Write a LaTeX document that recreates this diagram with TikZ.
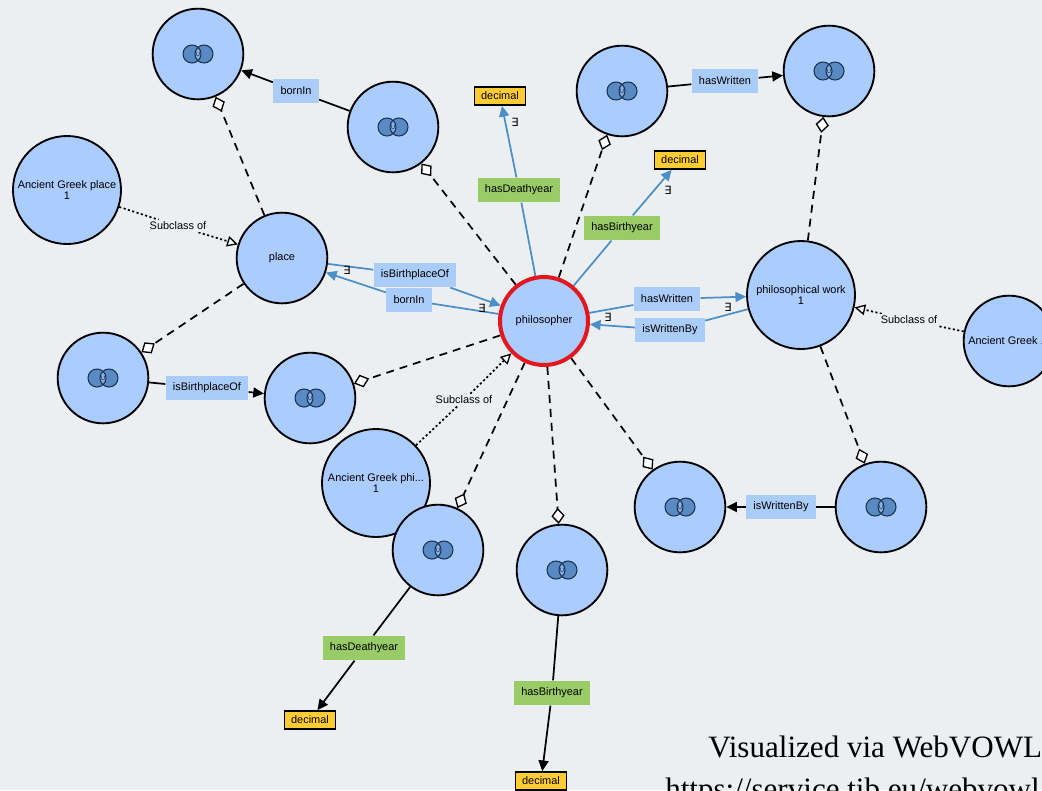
\documentclass[tikz,border=0pt]{standalone}
\usepackage{fontspec}
\setmainfont{Liberation Sans}
\newfontfamily\seriffont{Liberation Serif}
\newfontfamily\symfont{DejaVu Sans}
\usetikzlibrary{arrows.meta,backgrounds}
\definecolor{bgc}{HTML}{ECEFF1}
\definecolor{classc}{HTML}{AACCFF}
\definecolor{propc}{HTML}{AACCF8}
\definecolor{dtpc}{HTML}{99CC66}
\definecolor{dtc}{HTML}{FFCC33}
\definecolor{edgeblue}{HTML}{4A8FC7}
\definecolor{philred}{HTML}{E4161E}
\definecolor{iconc}{HTML}{5A8AC4}
\definecolor{lensc}{HTML}{8AAFE0}
\definecolor{iconline}{HTML}{1B3456}
\newcommand\uicon[1]{%
  \begin{scope}[shift={(#1.center)}]
    \fill[iconc] (-6,0) circle (9);
    \fill[iconc] (6,0) circle (9);
    \begin{scope}
      \clip (-6,0) circle (9);
      \fill[lensc] (6,0) circle (9);
    \end{scope}
    \draw[iconline,line width=0.8pt] (-6,0) circle (9) (6,0) circle (9);
    \node[font=\symfont\fontsize{5.5}{5.5}\selectfont,text=iconline,inner sep=0pt] (#1-u) at (0,0.5) {∪};
  \end{scope}}
\begin{document}
\begin{tikzpicture}[x=0.75pt,y=-0.75pt,
  every node/.style={font=\fontsize{8.2}{9.5}\selectfont},
  cls/.style={circle,draw=black,line width=1.4pt,fill=classc,minimum size=#1,inner sep=0pt,align=center},
  unicls/.style={cls=68pt},
  bigcls/.style={cls=81pt},
  philc/.style={circle,draw=philred,line width=3pt,fill=classc,minimum size=66pt,inner sep=0pt},
  propbox/.style={fill=propc,minimum height=18.5pt,inner xsep=5.5pt,inner ysep=0pt},
  dprop/.style={propbox,fill=dtpc},
  dtype/.style={draw=black,line width=1.3pt,fill=dtc,minimum height=13.5pt,inner xsep=5pt,inner ysep=0pt},
  subl/.style={fill=bgc,inner sep=1.5pt},
  exq/.style={font=\symfont\fontsize{8.5}{8.5}\selectfont,inner sep=0pt},
  bluedge/.style={draw=edgeblue,line width=1.3pt},
  bluearrow/.style={bluedge,-{Triangle[length=8pt,width=7.5pt]}},
  blackedge/.style={draw=black,line width=1.3pt},
  blackarrow/.style={blackedge,-{Triangle[length=8pt,width=7.5pt]}},
  dsh/.style={blackedge,dash pattern=on 6pt off 4.5pt,-{Diamond[fill=white,length=12pt,width=10pt,line width=1pt]}},
  subedge/.style={blackedge,dash pattern=on 1.6pt off 1.8pt},
  suba/.style={subedge,-{Triangle[fill=white,length=8pt,width=8pt,line width=1pt]}},
]
\useasboundingbox (0,0) rectangle (1042,790);
\begin{scope}[on background layer]
  \fill[bgc] (0,0) rectangle (1042,790);
\end{scope}
\clip (0,0) rectangle (1042,790);

% class nodes
\node[unicls] (U1) at (198,54) {};
\node[unicls] (U2) at (393,127) {};
\node[bigcls] (agplace) at (67,190) {Ancient Greek place\\[-1.5pt]1};
\node[unicls] (place) at (282,258) {place};
\node[unicls] (U3) at (103,378) {};
\node[unicls] (U4) at (310,398) {};
\node[philc] (phil) at (544,321) {philosopher};
\node[bigcls] (agphil) at (376,483) {Ancient Greek phi...\\[-1.5pt]1};
\node[unicls] (U5) at (438,550) {};
\node[unicls] (U6) at (562,570) {};
\node[unicls] (U7) at (680,507) {};
\node[unicls] (U8) at (881,507) {};
\node[bigcls] (pwork) at (801,295) {philosophical work\\[-1.5pt]1};
\node[unicls] (agwork) at (1009,341) {Ancient Greek ...};
\node[unicls] (U9) at (622,91) {};
\node[unicls] (U10) at (829,71) {};

\foreach \n in {U1,U2,U3,U4,U5,U6,U7,U8,U9,U10} {\uicon{\n}}

% property labels
\node[propbox] (lBornTop) at (296,91) {bornIn};
\node[propbox] (lIBPbot) at (207,388) {isBirthplaceOf};
\node[propbox] (lHWtop) at (725,81) {hasWritten};
\node[propbox] (lIWBbot) at (781,507) {isWrittenBy};
\node[dprop] (lHDbot) at (364,648) {hasDeathyear};
\node[dprop] (lHBbot) at (552,693) {hasBirthyear};
\node[dtype] (dBL) at (310,720) {decimal};
\node[dtype] (dB) at (541,781) {decimal};
\node[dtype] (dTL) at (500,96) {decimal};
\node[dtype] (dTR) at (680,160) {decimal};
\node[dprop] (lHDtop) at (519,190) {hasDeathyear};
\node[dprop] (lHBtop) at (622,228) {hasBirthyear};
\node[propbox] (lIBPmid) at (415,275) {isBirthplaceOf};
\node[propbox] (lBornMid) at (409,300) {bornIn};
\node[propbox] (lHWmid) at (667,299) {hasWritten};
\node[propbox] (lIWBmid) at (670,330) {isWrittenBy};

\node[subl] (s1) at (178,226) {Subclass of};
\node[subl] (s2) at (464,400) {Subclass of};
\node[subl] (s3) at (909,320) {Subclass of};

\node[exq] (e1) at (515,122) {∃};
\node[exq] (e2) at (668,190) {∃};
\node[exq] (e3) at (347,270) {∃};
\node[exq] (e4) at (482,308) {∃};
\node[exq] (e5) at (728,307) {∃};
\node[exq] (e6) at (608,317) {∃};

\node[anchor=base west,font=\seriffont\fontsize{23.3}{23}\selectfont,inner sep=0pt] (cred1) at (708,757) {Visualized via WebVOWL};
\node[anchor=base west,font=\seriffont\fontsize{23.3}{23}\selectfont,inner sep=0pt] (cred2) at (665,799) {https://service.tib.eu/webvowl};

\begin{scope}[on background layer]
  % datatype / object properties of philosopher
  \draw[bluedge] (phil) -- (lHDtop);
  \draw[bluearrow] (lHDtop) -- (dTL);
  \draw[bluedge] (phil) -- (lHBtop);
  \draw[bluearrow] (lHBtop) -- (dTR);
  \draw[bluedge] (place) -- (lIBPmid);
  \draw[bluearrow] (lIBPmid) -- (phil);
  \draw[bluedge] (phil) -- (lBornMid);
  \draw[bluearrow] (lBornMid) -- (place);
  \draw[bluedge] (phil) -- (lHWmid);
  \draw[bluearrow] (lHWmid) -- (pwork);
  \draw[bluedge] (pwork) -- (lIWBmid);
  \draw[bluearrow] (lIWBmid) -- (phil);
  % union to union
  \draw[blackedge] (U2) -- (lBornTop);
  \draw[blackarrow] (lBornTop) -- (U1);
  \draw[blackedge] (U3) -- (lIBPbot);
  \draw[blackarrow] (lIBPbot) -- (U4);
  \draw[blackedge] (U9) -- (lHWtop);
  \draw[blackarrow] (lHWtop) -- (U10);
  \draw[blackedge] (U8) -- (lIWBbot);
  \draw[blackarrow] (lIWBbot) -- (U7);
  \draw[blackedge] (U5) -- (lHDbot);
  \draw[blackarrow] (lHDbot) -- (dBL);
  \draw[blackedge] (U6) -- (lHBbot);
  \draw[blackarrow] (lHBbot) -- (dB);
  % union links
  \draw[dsh] (place) -- (U1);
  \draw[dsh] (place) -- (U3);
  \draw[dsh] (phil) -- (U2);
  \draw[dsh] (phil) -- (U4);
  \draw[dsh] (phil) -- (U9);
  \draw[dsh] (phil) -- (U5);
  \draw[dsh] (phil) -- (U6);
  \draw[dsh] (phil) -- (U7);
  \draw[dsh] (pwork) -- (U10);
  \draw[dsh] (pwork) -- (U8);
  % subclass
  \draw[subedge] (agplace) -- (s1);
  \draw[suba] (s1) -- (place);
  \draw[subedge] (agphil) -- (s2);
  \draw[suba] (s2) -- (phil);
  \draw[subedge] (agwork) -- (s3);
  \draw[suba] (s3) -- (pwork);
\end{scope}
\end{tikzpicture}
\end{document}
